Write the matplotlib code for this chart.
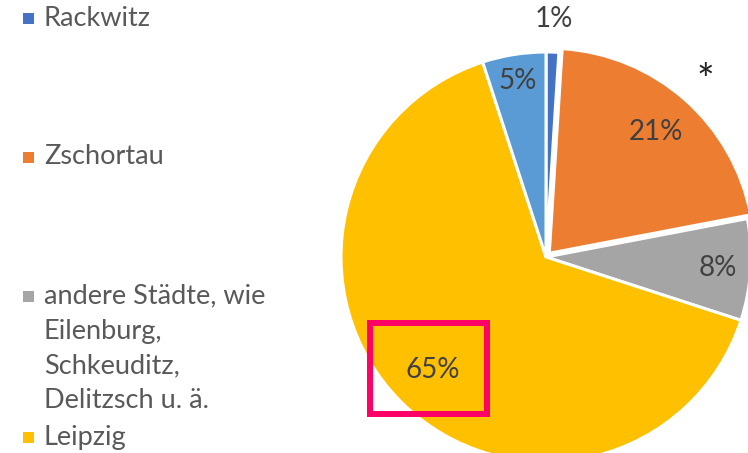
import matplotlib
matplotlib.use('Agg')
import matplotlib.pyplot as plt
from matplotlib.patches import Rectangle
import numpy as np

# data
labels = ['Rackwitz', 'Zschortau',
          'andere Städte, wie\nEilenburg,\nSchkeuditz,\nDelitzsch u. ä.',
          'Leipzig', 'Sonstige']
values = [1, 21, 8, 65, 5]
colors = ['#4472C4', '#ED7D31', '#A5A5A5', '#FFC000', '#5B9BD5']

plt.rcParams['font.family'] = ['Lato', 'DejaVu Sans']

W, H = 748, 453
fig = plt.figure(figsize=(W / 100, H / 100), dpi=100)
ax = fig.add_axes([0, 0, 1, 1])

cx, cy, R = 546, H - 257, 205
explode = [0, 5, 0, 0, 0]
wedges, texts, autotexts = ax.pie(values, colors=colors, startangle=90, counterclock=False,
                                  center=(cx, cy), radius=R, explode=explode,
                                  autopct='%d%%', pctdistance=0.8,
                                  wedgeprops=dict(edgecolor='white', linewidth=2.2),
                                  textprops=dict(fontsize=20, color='#404040'))
ax.set_xlim(0, W)
ax.set_ylim(0, H)
ax.set_aspect('equal')
ax.axis('off')

# label distances (fraction of radius)
dist = [1.16, 0.79, 0.84, 0.78, 0.87]
for w, t, d in zip(wedges, autotexts, dist):
    th = np.deg2rad((w.theta1 + w.theta2) / 2)
    x0, y0 = w.center
    t.set_position((x0 + d * R * np.cos(th), y0 + d * R * np.sin(th)))
    t.set_ha('center')
    t.set_va('center')

ax.text(705, H - 82, '*', fontsize=30, ha='center', va='center', color='#222222')

# highlight box around 65%
ax.add_patch(Rectangle((370, H - 414), 117, 91, fill=False, edgecolor='#FF0066', linewidth=4.3))

# legend (first four entries)
leg_y = [18, 157, 296, 437]
for lab, col, y in zip(labels[:4], colors[:4], leg_y):
    ax.add_patch(Rectangle((23, H - y - 5.5), 11, 11, facecolor=col, edgecolor='none'))
    for i, line in enumerate(lab.split('\n')):
        ax.text(44, H - y - i * 35, line, fontsize=19.5, color='#595959', ha='left', va='center')

fig.savefig('out.png', dpi=100)
